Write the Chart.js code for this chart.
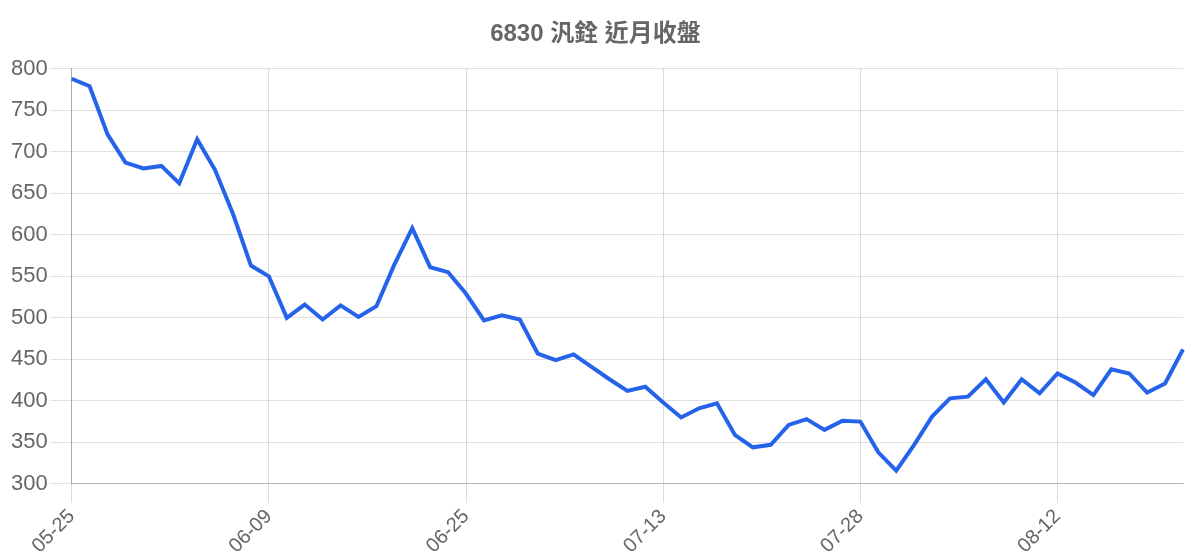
<!DOCTYPE html>
<html>
<head>
<meta charset="utf-8">
<script src="https://cdn.jsdelivr.net/npm/chart.js@4.4.1/dist/chart.umd.min.js"></script>
<style>
html,body{margin:0;padding:0;background:#fff;}
#wrap{width:1200px;height:560px;position:relative;}
</style>
</head>
<body>
<div id="wrap"><canvas id="c"></canvas></div>
<script>
const titleText = '6830 汎銓 近月收盤';

const dates = [
  '05-25','05-26','05-27','05-28','05-29','05-30','06-02','06-03','06-04','06-05','06-06',
  '06-09','06-10','06-11','06-12','06-13','06-16','06-17','06-18','06-20','06-23','06-24',
  '06-25','06-26','06-27','06-30','07-01','07-02','07-03','07-07','07-08','07-09','07-11',
  '07-13','07-14','07-15','07-16','07-17','07-18','07-21','07-22','07-23','07-24','07-25',
  '07-28','07-29','07-30','07-31','08-01','08-04','08-05','08-06','08-07','08-08','08-11',
  '08-12','08-13','08-14','08-15','08-18','08-19','08-20','08-21'
];

const closes = [
  788, 779, 721, 687, 680, 683, 662, 715, 678, 625, 563,
  550, 500, 516, 498, 515, 501, 514, 564, 608, 561, 555,
  529, 497, 503, 498, 457, 449, 456, 441, 426, 412, 417,
  398, 380, 391, 397, 359, 344, 347, 371, 378, 365, 376,
  375, 338, 316, 347, 381, 403, 405, 426, 398, 426, 409,
  433, 422, 407, 438, 433, 410, 421, 462
];

const yTicks = { min: 300, max: 800, step: 50 };

const fontFamily = "'Liberation Sans', Arial, 'Noto Sans CJK TC', sans-serif";

new Chart(document.getElementById('c'), {
  type: 'line',
  data: {
    labels: dates,
    datasets: [{
      label: '收盤',
      data: closes,
      borderColor: '#2563eb',
      backgroundColor: '#2563eb',
      borderWidth: 4,
      pointRadius: 0,
      pointHoverRadius: 0,
      tension: 0,
      fill: false
    }]
  },
  options: {
    responsive: true,
    maintainAspectRatio: false,
    animation: false,
    layout: { padding: { left: 8, right: 17, top: 0, bottom: 0 } },
    plugins: {
      legend: { display: false },
      tooltip: { enabled: false },
      title: {
        display: true,
        text: titleText,
        color: '#666',
        font: { family: "'Liberation Sans', 'Noto Sans CJK TC', sans-serif", size: 24, weight: 'bold' },
        padding: { top: 20, bottom: 20 }
      }
    },
    scales: {
      x: {
        grid: { color: 'rgba(0,0,0,0.14)', tickLength: 19 },
        border: { color: 'rgba(0,0,0,0.2)' },
        ticks: {
          color: '#666',
          font: { family: fontFamily, size: 20 },
          maxRotation: 45,
          minRotation: 45,
          autoSkip: true,
          maxTicksLimit: 6,
          padding: 2
        }
      },
      y: {
        min: yTicks.min,
        max: yTicks.max,
        grid: { color: 'rgba(0,0,0,0.12)', tickLength: 21 },
        border: { color: '#aaa' },
        ticks: {
          stepSize: yTicks.step,
          color: '#666',
          font: { family: fontFamily, size: 22 },
          padding: 3
        }
      }
    }
  }
});
</script>
</body>
</html>
